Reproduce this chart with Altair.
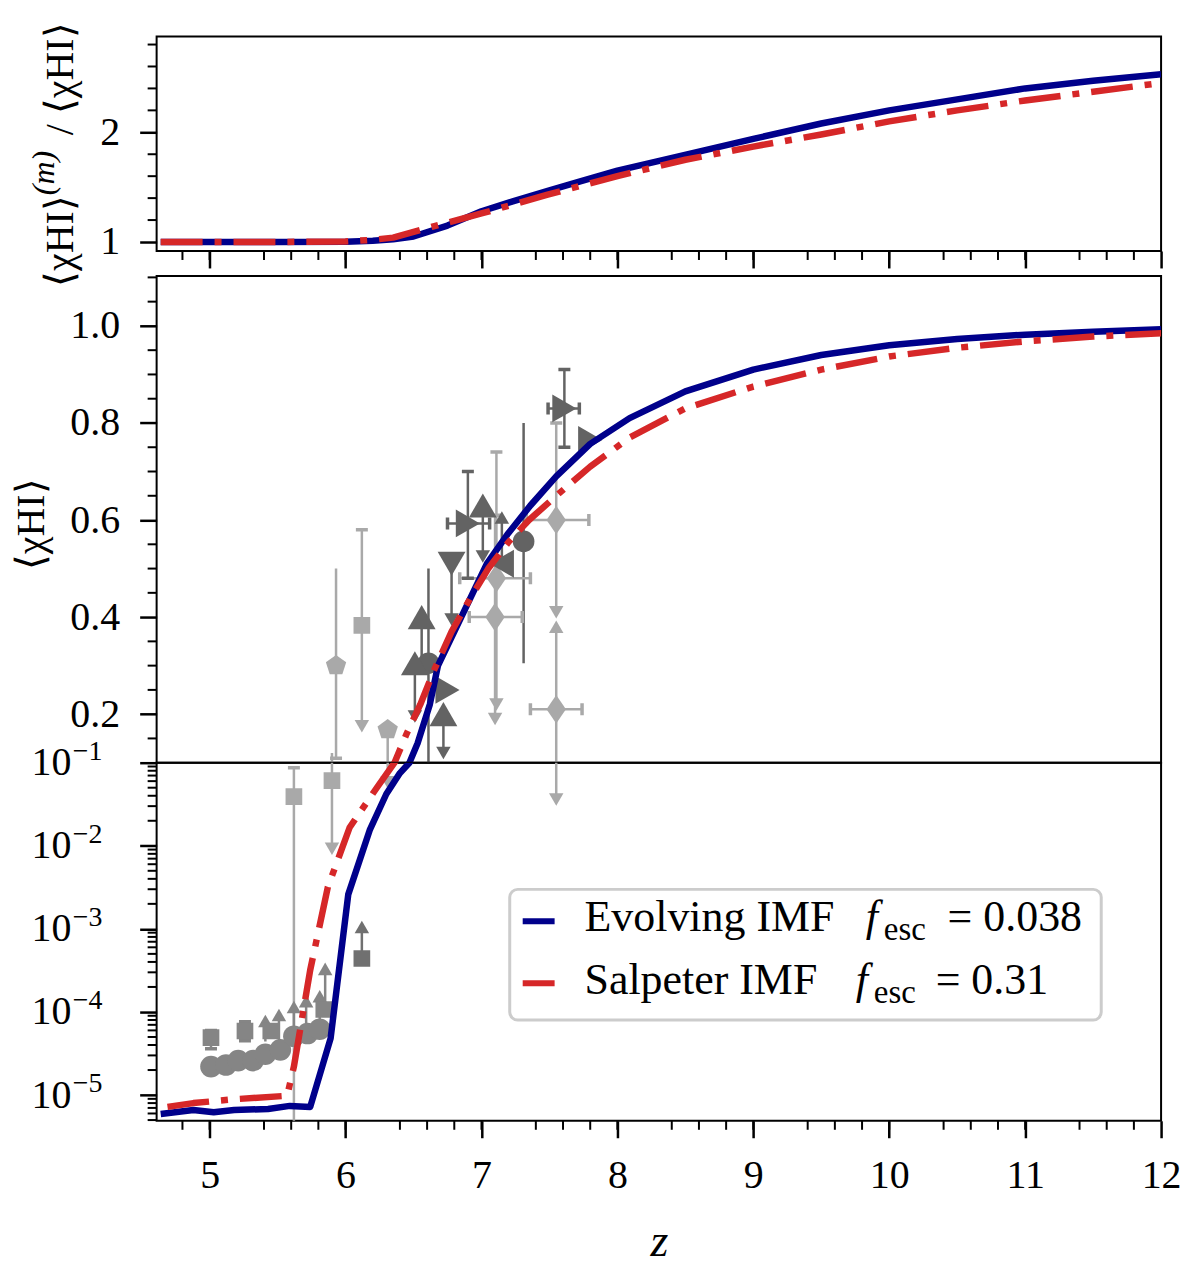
import altair as alt
import pandas as pd

FONT = "Liberation Serif"
BLUE = "#00008b"
RED = "#d62728"
DARK = "#636363"
DARK2 = "#707070"
MID = "#858585"
LIGHT = "#a9a9a9"
DASH = [42, 12, 7, 12]
PENTAGON = "M0,-1L0.951,-0.309L0.588,0.809L-0.588,0.809L-0.951,-0.309Z"
THIN_DIAMOND = "M0,-1L0.68,0L0,1L-0.68,0Z"

# model curves: mean neutral fraction <x_HI>(z)
z_evolving = [4.64, 4.88, 5.03, 5.18, 5.43, 5.59, 5.74, 5.89, 6.02, 6.18,
              6.30, 6.40, 6.47, 6.53, 6.62, 6.68, 6.80, 6.92, 7.04, 7.19,
              7.36, 7.55, 7.80, 8.09, 8.5, 9.0, 9.5, 10.0, 10.5, 11.0, 11.5, 12.0]
xhi_evolving = [5.9e-6, 6.6e-6, 6.2e-6, 6.6e-6, 6.8e-6, 7.4e-6, 7.2e-6, 4.8e-5, 2.6e-3, 0.0158,
                0.042, 0.075, 0.10, 0.14, 0.22, 0.30, 0.37, 0.44, 0.51, 0.57,
                0.63, 0.69, 0.757, 0.81, 0.865, 0.91, 0.94, 0.96, 0.973, 0.982, 0.988, 0.993]
z_salpeter = [4.69, 4.88, 5.18, 5.57, 5.62, 5.74, 5.87, 6.03, 6.23, 6.36,
              6.45, 6.55, 6.65, 6.78, 6.92, 7.05, 7.2, 7.35, 7.55, 7.8,
              8.09, 8.5, 9.0, 9.5, 10.0, 10.5, 11.0, 11.5, 12.0]
xhi_salpeter = [7.2e-6, 8.0e-6, 8.9e-6, 9.8e-6, 2.2e-5, 3.2e-4, 3.2e-3, 0.0166, 0.05, 0.10,
                0.16, 0.22, 0.29, 0.37, 0.44, 0.50, 0.555, 0.60, 0.65, 0.71,
                0.77, 0.83, 0.875, 0.91, 0.937, 0.955, 0.968, 0.978, 0.985]

# ratio <x_HI>^(m) / <x_HI>
z_ratio_evolving = [4.64, 5.0, 5.5, 6.0, 6.2, 6.35, 6.5, 6.75, 7.0, 7.23, 7.5,
                    7.72, 8.0, 8.45, 9.0, 9.5, 10.0, 10.5, 11.0, 11.5, 12.0]
ratio_evolving = [1.0, 1.0, 1.0, 1.003, 1.012, 1.025, 1.05, 1.15, 1.28, 1.37, 1.47,
                  1.55, 1.65, 1.78, 1.94, 2.08, 2.20, 2.30, 2.40, 2.47, 2.53]
z_ratio_salpeter = [4.64, 5.0, 5.5, 6.0, 6.2, 6.35, 6.64, 7.0, 7.48, 8.0, 8.5,
                    9.0, 9.5, 10.0, 10.5, 11.0, 11.5, 12.0]
ratio_salpeter = [1.0, 1.0, 1.0, 1.005, 1.02, 1.04, 1.14, 1.26, 1.43, 1.60, 1.75,
                  1.87, 1.98, 2.10, 2.20, 2.29, 2.37, 2.45]

# observational constraints: z, <x_HI>, marker, tone
obs_markers = [
    (5.93, 0.30, "pentagon", "light"), (6.31, 0.168, "pentagon", "light"),
    (6.12, 0.383, "square", "light"), (5.90, 0.061, "square", "light"), (5.62, 0.039, "square", "light"),
    (7.55, 0.60, "diamond", "light"), (7.55, 0.21, "diamond", "light"),
    (7.11, 0.48, "diamond", "light"), (7.10, 0.40, "diamond", "light"),
    (5.01, 4.9e-5, "square", "mid"), (5.26, 5.9e-5, "square", "mid"),
    (5.45, 5.9e-5, "square", "mid"), (5.84, 1.07e-4, "square", "mid"),
    (5.01, 2.2e-5, "circle", "mid"), (5.12, 2.3e-5, "circle", "mid"), (5.21, 2.6e-5, "circle", "mid"),
    (5.32, 2.6e-5, "circle", "mid"), (5.41, 3.1e-5, "circle", "mid"), (5.52, 3.5e-5, "circle", "mid"),
    (5.62, 5.1e-5, "circle", "mid"), (5.72, 5.5e-5, "circle", "mid"), (5.81, 6.2e-5, "circle", "mid"),
    (6.12, 4.4e-4, "square", "dark2"),
    (7.61, 0.83, "right", "dark"), (7.80, 0.765, "right", "dark"),
    (6.90, 0.593, "right", "dark"), (6.75, 0.25, "right", "dark"),
    (7.01, 0.63, "up", "dark"), (6.56, 0.40, "up", "dark"),
    (6.51, 0.305, "up", "dark"), (6.72, 0.20, "up", "dark"),
    (7.15, 0.51, "left", "dark"), (6.78, 0.51, "down", "dark"),
    (7.31, 0.556, "circle", "dark"), (6.61, 0.305, "circle", "dark"),
]
# vertical error / limit segments: z, low, high, tone
obs_ybars = [
    (5.93, 0.109, 0.50, "light"), (6.12, 0.18, 0.58, "light"), (6.31, 0.062, 0.168, "light"),
    (7.55, 0.42, 0.80, "light"), (7.55, 0.038, 0.37, "light"), (7.11, 0.23, 0.74, "light"),
    (7.10, 0.20, 0.61, "light"), (5.90, 0.0098, 0.12, "light"), (5.62, 1e-6, 0.087, "light"),
    (5.01, 3.6e-5, 6.0e-5, "mid"), (5.26, 4.5e-5, 7.6e-5, "mid"), (5.41, 4.4e-5, 7.8e-5, "mid"),
    (5.51, 4.6e-5, 9.2e-5, "mid"), (5.62, 5.0e-5, 1.15e-4, "mid"), (5.71, 5.6e-5, 1.35e-4, "mid"),
    (5.81, 7.0e-5, 1.55e-4, "mid"), (5.85, 1.0e-4, 3.3e-4, "mid"),
    (6.12, 4.4e-4, 1.05e-3, "dark2"),
    (7.61, 0.75, 0.91, "dark"), (6.90, 0.48, 0.70, "dark"), (7.01, 0.53, 0.63, "dark"),
    (7.15, 0.51, 0.60, "dark"), (7.31, 0.305, 0.80, "dark"), (6.78, 0.40, 0.51, "dark"),
    (6.56, 0.31, 0.40, "dark"), (6.51, 0.20, 0.305, "dark"), (6.61, 0.10, 0.50, "dark"),
    (6.72, 0.125, 0.20, "dark"),
]
# caps on vertical bars: z, value, tone
obs_ycaps = [
    (5.93, 0.109, "light"), (6.12, 0.58, "light"), (7.55, 0.80, "light"),
    (7.11, 0.74, "light"), (7.10, 0.61, "light"), (5.62, 0.087, "light"),
    (5.01, 3.6e-5, "mid"), (5.01, 6.0e-5, "mid"), (5.26, 4.5e-5, "mid"), (5.26, 7.6e-5, "mid"),
    (7.61, 0.75, "dark"), (7.61, 0.91, "dark"), (6.90, 0.48, "dark"), (6.90, 0.70, "dark"),
]
# horizontal error bars: value, z low, z high, tone
obs_xbars = [
    (0.60, 7.33, 7.79, "light"), (0.21, 7.36, 7.74, "light"),
    (0.48, 6.84, 7.36, "light"), (0.40, 6.91, 7.30, "light"),
    (0.83, 7.49, 7.72, "dark"), (0.593, 6.75, 7.06, "dark"),
]
# limit arrow heads: z, value, direction, tone
obs_arrows = [
    (6.12, 0.175, "down", "light"), (6.31, 0.058, "down", "light"), (7.55, 0.41, "down", "light"),
    (7.55, 0.38, "up", "light"), (7.55, 0.036, "down", "light"), (7.11, 0.22, "down", "light"),
    (7.10, 0.19, "down", "light"), (5.90, 0.0092, "down", "light"),
    (5.41, 7.8e-5, "up", "mid"), (5.51, 9.2e-5, "up", "mid"), (5.62, 1.15e-4, "up", "mid"),
    (5.71, 1.35e-4, "up", "mid"), (5.81, 1.55e-4, "up", "mid"), (5.85, 3.3e-4, "up", "mid"),
    (6.12, 1.05e-3, "up", "dark2"),
    (7.01, 0.525, "down", "dark"), (7.15, 0.605, "up", "dark"), (6.78, 0.395, "down", "dark"),
    (6.51, 0.195, "down", "dark"), (6.72, 0.12, "down", "dark"),
]

W, H_TOP, H_MID, H_BOT = 1007, 215, 488, 359
ONE = pd.DataFrame({"k": [0]})

zscale = alt.Scale(domain=[4.61, 12.0], nice=False, zero=False)
ratio_scale = alt.Scale(domain=[0.918, 2.873], nice=False, zero=False)
lin_scale = alt.Scale(domain=[0.1, 1.103], nice=False, zero=False)
log_scale = alt.Scale(type="log", domain=[4.9e-6, 0.1], nice=False)
tones = alt.Scale(domain=["light", "mid", "dark2", "dark"], range=[LIGHT, MID, DARK2, DARK])

SHAPE = {"right": "triangle-right", "up": "triangle-up", "left": "triangle-left",
         "down": "triangle-down", "circle": "circle", "square": "square",
         "pentagon": PENTAGON, "diamond": THIN_DIAMOND}
SIZE = {"right": 780, "up": 780, "left": 780, "down": 780, "circle": 470,
        "square": 280, "pentagon": 460, "diamond": 820}

z_minor = [round(4.6 + 0.2 * i, 1) for i in range(38) if (i + 2) % 5 != 0]
z_minor = [t for t in z_minor if 4.61 < t < 12]
ratio_minor = [1.2, 1.4, 1.6, 1.8, 2.2, 2.4, 2.6, 2.8]
lin_minor = [0.15, 0.25, 0.3, 0.35, 0.45, 0.5, 0.55, 0.65, 0.7, 0.75, 0.85, 0.9, 0.95, 1.05, 1.1]
log_major = [1e-5, 1e-4, 1e-3, 1e-2, 1e-1]
log_minor = [m * 10.0 ** k for k in range(-6, -1) for m in range(2, 10) if 4.9e-6 <= m * 10.0 ** k <= 0.1]


def x_axis(labels, title=None):
    kw = dict(values=list(range(5, 13)), labels=labels, tickSize=17, tickWidth=2.5,
              tickColor="black", domain=False, grid=False, labelFont=FONT,
              labelFontSize=40, labelColor="black", labelPadding=18, labelFlush=False,
              labelOverlap=False, titleFont=FONT, titleFontSize=46, titleFontStyle="italic",
              titleFontWeight="normal", titleColor="black", titlePadding=24, title=title)
    return alt.Axis(**kw)


def y_axis(values, fmt=None, expr=None, pad=20):
    kw = dict(values=values, tickSize=17, tickWidth=2.5, tickColor="black", domain=False,
              grid=False, labelFont=FONT, labelFontSize=40, labelColor="black",
              labelPadding=pad, labelOverlap=False, title=None)
    if fmt:
        kw["format"] = fmt
    if expr:
        kw["labelExpr"] = expr
    return alt.Axis(**kw)


# axes of every panel; every layer that uses a scale gets the same axis object
TOP_X, TOP_Y = x_axis(False), y_axis([1, 2], fmt="d")
MID_X, MID_Y = None, y_axis([0.2, 0.4, 0.6, 0.8, 1.0], fmt=".1f")
BOT_X, BOT_Y = x_axis(True, "z"), y_axis(log_major, expr="'10'", pad=69)


def line(zs, vs, colour, yscale, xaxis, yaxis, dash=None):
    mk = dict(color=colour, strokeWidth=6.5, clip=True, strokeCap="butt", strokeJoin="round")
    if dash:
        mk["strokeDash"] = dash
    return alt.Chart(pd.DataFrame({"z": zs, "v": vs})).mark_line(**mk).encode(
        x=alt.X("z:Q", scale=zscale, axis=xaxis),
        y=alt.Y("v:Q", scale=yscale, axis=yaxis),
    )


def xminor(height, xaxis):
    return alt.Chart(pd.DataFrame({"t": z_minor})).mark_rule(color="black", strokeWidth=2).encode(
        x=alt.X("t:Q", scale=zscale, axis=xaxis), y=alt.value(height), y2=alt.value(height + 9))


def yminor(values, scale, yaxis):
    return alt.Chart(pd.DataFrame({"t": values})).mark_rule(color="black", strokeWidth=2).encode(
        y=alt.Y("t:Q", scale=scale, axis=yaxis), x=alt.value(-9), x2=alt.value(0))


def label(text, x, y, size=40, style="normal", align="left", baseline="alphabetic", angle=0):
    mk = dict(text=text, font=FONT, fontSize=size, fontStyle=style, align=align,
              baseline=baseline, color="black")
    if angle:
        mk["angle"] = angle
    return alt.Chart(ONE).mark_text(**mk).encode(x=alt.value(x), y=alt.value(y))


def obs_layers(yscale, xaxis, yaxis):
    xs = lambda f: alt.X(f, scale=zscale, axis=xaxis)
    ys = lambda f: alt.Y(f, scale=yscale, axis=yaxis)
    col = alt.Color("tone:N", scale=tones, legend=None)
    yb = pd.DataFrame(obs_ybars, columns=["z", "lo", "hi", "tone"])
    xb = pd.DataFrame(obs_xbars, columns=["v", "lo", "hi", "tone"])
    yc = pd.DataFrame(obs_ycaps, columns=["z", "v", "tone"])
    xc = pd.DataFrame([(lo, v, t) for v, lo, hi, t in obs_xbars] +
                      [(hi, v, t) for v, lo, hi, t in obs_xbars], columns=["z", "v", "tone"])
    ar = pd.DataFrame(obs_arrows, columns=["z", "v", "dir", "tone"])
    mk = pd.DataFrame(obs_markers, columns=["z", "v", "shape", "tone"])
    layers = [
        alt.Chart(yb).mark_rule(strokeWidth=2.5, clip=True).encode(
            x=xs("z:Q"), y=ys("lo:Q"), y2="hi:Q", color=col),
        alt.Chart(xb).mark_rule(strokeWidth=2.5, clip=True).encode(
            x=xs("lo:Q"), x2="hi:Q", y=ys("v:Q"), color=col),
        alt.Chart(yc).mark_rule(strokeWidth=3.5, clip=True, xOffset=-6, x2Offset=6).encode(
            x=xs("z:Q"), x2="z:Q", y=ys("v:Q"), color=col),
        alt.Chart(xc).mark_rule(strokeWidth=3.5, clip=True, yOffset=-6, y2Offset=6).encode(
            x=xs("z:Q"), y=ys("v:Q"), y2="v:Q", color=col),
        alt.Chart(ar).mark_point(filled=True, opacity=1, size=210, clip=True).encode(
            x=xs("z:Q"), y=ys("v:Q"), color=col,
            shape=alt.Shape("dir:N", scale=alt.Scale(domain=["up", "down"],
                                                     range=["triangle-up", "triangle-down"]),
                            legend=None)),
    ]
    for key in ["pentagon", "square", "diamond", "circle", "right", "up", "left", "down"]:
        layers.append(
            alt.Chart(mk).transform_filter(alt.datum.shape == key).mark_point(
                filled=True, opacity=1, strokeWidth=0, size=SIZE[key], shape=SHAPE[key], clip=True
            ).encode(x=xs("z:Q"), y=ys("v:Q"), color=col))
    return layers


top = alt.layer(
    line(z_ratio_evolving, ratio_evolving, BLUE, ratio_scale, TOP_X, TOP_Y),
    line(z_ratio_salpeter, ratio_salpeter, RED, ratio_scale, TOP_X, TOP_Y, dash=DASH),
    xminor(H_TOP, TOP_X),
    yminor(ratio_minor, ratio_scale, TOP_Y),
    label("⟨χHI⟩", -96, 159, 40, align="right", baseline="middle", angle=270),
    label("(m)", -113, 159, 32, style="italic", align="left", baseline="middle", angle=270),
    label("/ ⟨χHI⟩", -96, 99, 40, align="left", baseline="middle", angle=270),
).properties(width=W, height=H_TOP)

mid = alt.layer(
    *obs_layers(lin_scale, MID_X, MID_Y),
    line(z_evolving, xhi_evolving, BLUE, lin_scale, MID_X, MID_Y),
    line(z_salpeter, xhi_salpeter, RED, lin_scale, MID_X, MID_Y, dash=DASH),
    yminor(lin_minor, lin_scale, MID_Y),
    label("⟨χHI⟩", -125, 249, 40, align="center", baseline="middle", angle=270),
).properties(width=W, height=H_MID)

exponents = alt.Chart(pd.DataFrame({"v": log_major, "e": ["−5", "−4", "−3", "−2", "−1"]})).mark_text(
    font=FONT, fontSize=28, align="left", baseline="middle", dy=-11, color="black"
).encode(x=alt.value(-84), y=alt.Y("v:Q", scale=log_scale, axis=BOT_Y), text="e:N")

legend = [
    alt.Chart(ONE).mark_rect(fill="white", fillOpacity=0.8, stroke="#cccccc", strokeWidth=3,
                             cornerRadius=8).encode(
        x=alt.value(354), x2=alt.value(947), y=alt.value(127), y2=alt.value(258)),
    alt.Chart(ONE).mark_rule(color=BLUE, strokeWidth=6).encode(
        x=alt.value(367), x2=alt.value(399), y=alt.value(159)),
    alt.Chart(ONE).mark_rule(color=RED, strokeWidth=6).encode(
        x=alt.value(367), x2=alt.value(399), y=alt.value(221)),
    label("Evolving IMF", 429, 169, 44),
    label("f", 711, 169, 44, style="italic"),
    label("esc", 729, 178, 33),
    label("= 0.038", 793, 169, 44),
    label("Salpeter IMF", 429, 232, 44),
    label("f", 701, 232, 44, style="italic"),
    label("esc", 719, 241, 33),
    label("= 0.31", 781, 232, 44),
]

bot = alt.layer(
    *obs_layers(log_scale, BOT_X, BOT_Y),
    line(z_evolving, xhi_evolving, BLUE, log_scale, BOT_X, BOT_Y),
    line(z_salpeter, xhi_salpeter, RED, log_scale, BOT_X, BOT_Y, dash=DASH),
    xminor(H_BOT, BOT_X),
    yminor(log_minor, log_scale, BOT_Y),
    exponents,
    *legend,
).properties(width=W, height=H_BOT)

lower = alt.vconcat(mid, bot, spacing=0, bounds="flush")
chart = alt.vconcat(top, lower, spacing=25, bounds="flush").properties(
    padding={"left": 3, "top": 11, "right": 10, "bottom": 10},
    background="white",
).configure_view(stroke="black", strokeWidth=2)

chart.save("out.html", embed_options={"renderer": "svg", "actions": False})
